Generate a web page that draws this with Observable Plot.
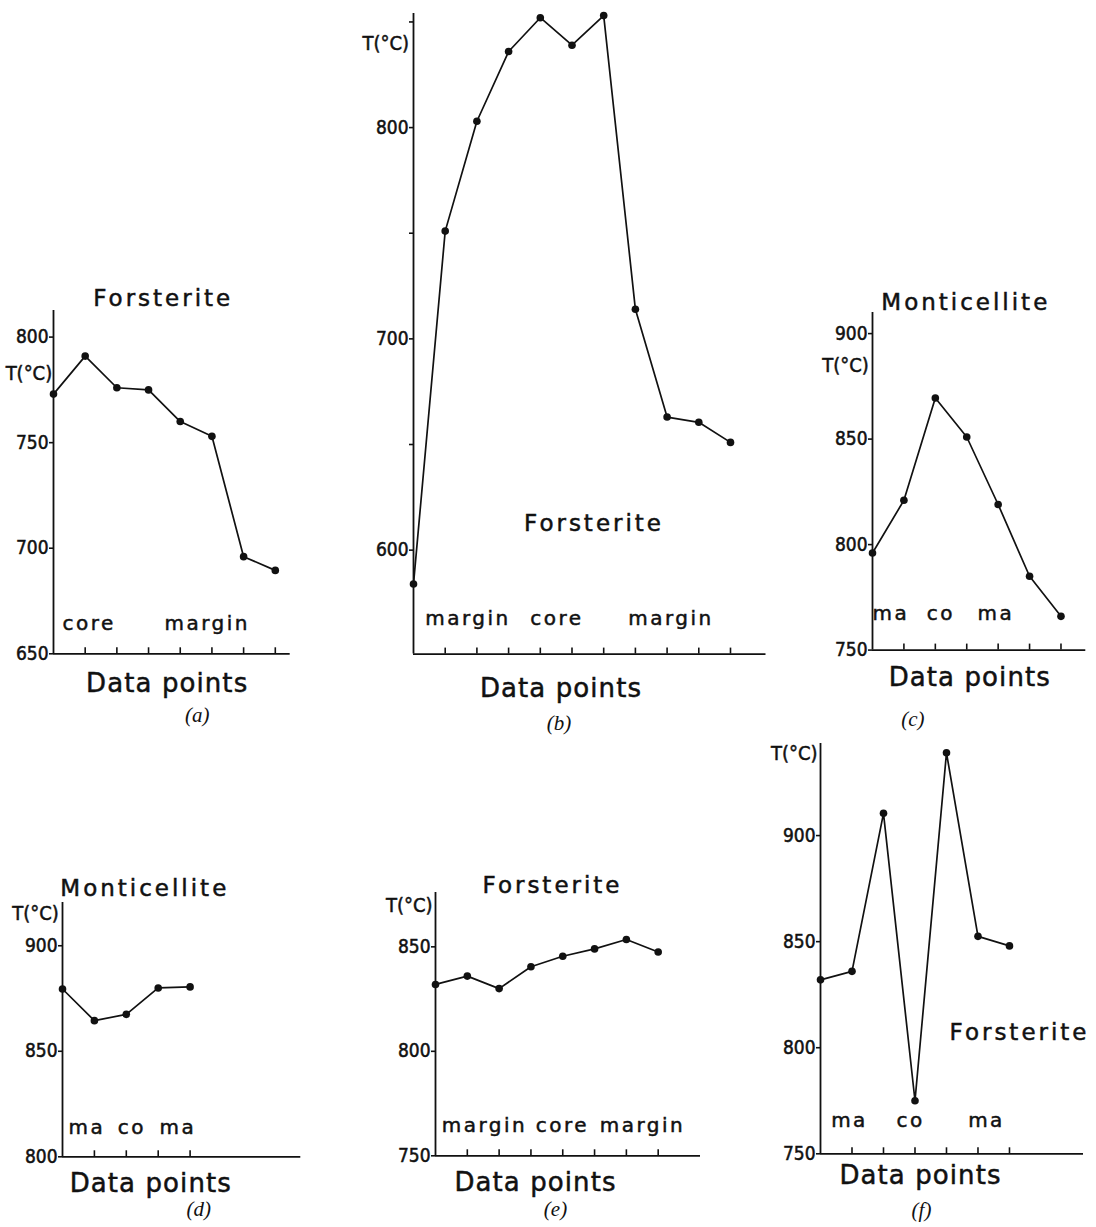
<!DOCTYPE html>
<html>
<head>
<meta charset="utf-8">
<script src="https://cdn.jsdelivr.net/npm/d3@7"></script>
<script src="https://cdn.jsdelivr.net/npm/@observablehq/plot@0.6"></script>
<style>
  html, body { margin: 0; padding: 0; background: #fff; }
  #page { position: relative; width: 1096px; height: 1227px; overflow: hidden; background: #fff; }
  #page svg { position: absolute; overflow: visible; }
</style>
</head>
<body>
<div id="page"></div>
<script>
// ---------- data ----------
const pointsA = [773, 791, 776, 775, 760, 753, 696, 689.5];
const pointsB = [584, 751, 803, 836, 852, 839, 853, 714, 663, 660.5, 651];
const pointsC = [796, 821, 869.5, 851, 819, 785, 766];
const pointsD = [879.5, 864.5, 867.5, 880, 880.5];
const pointsE = [832, 836, 830, 840.5, 845.5, 849, 853.5, 847.5];
const pointsF = [832, 836, 910.5, 775, 939, 852.5, 848];

const yTicksA = [650, 700, 750, 800];
const yTicksB = [600, 650, 700, 750, 800, 850];
const yLabelsB = [600, 700, 800];
const yTicksC = [750, 800, 850, 900];
const yTicksD = [800, 850, 900];
const yTicksE = [750, 800, 850];
const yTicksF = [750, 800, 850, 900];

const titles = ["Forsterite", "Forsterite", "Monticellite", "Monticellite", "Forsterite", "Forsterite"];
const zonesA = ["core", "margin"];
const zonesB = ["margin", "core", "margin"];
const zonesC = ["ma", "co", "ma"];
const zonesD = ["ma", "co", "ma"];
const zonesE = ["margin", "core", "margin"];
const zonesF = ["ma", "co", "ma"];
const captions = ["(a)", "(b)", "(c)", "(d)", "(e)", "(f)"];
const xLabel = "Data points";
const yLabel = "T(°C)";

// ---------- layout (page pixel positions) ----------
const panels = [
  { values: pointsA, yTicks: yTicksA, yLabels: yTicksA, yDomain: [650, 812.6], xMax: 7.47, title: titles[0], zones: zonesA, caption: captions[0],
    frame: {left: 53.3, top: 310, right: 290, bottom: 653.3},
    titlePos: [163, 298], ylabPos: [52, 373], zonePos: [[89, 623], [207, 623]], xlabPos: [167, 683], capPos: [197, 715] },
  { values: pointsB, yTicks: yTicksB, yLabels: yLabelsB, yDomain: [550.8, 854], xMax: 11.12, title: titles[1], zones: zonesB, caption: captions[1],
    frame: {left: 412.5, top: 12.7, right: 765, bottom: 653.3},
    titlePos: [593, 523], ylabPos: [408, 43], zonePos: [[467, 618], [556, 618], [670, 618]], xlabPos: [560, 688], capPos: [558, 722] },
  { values: pointsC, yTicks: yTicksC, yLabels: yTicksC, yDomain: [750, 910], xMax: 6.79, title: titles[2], zones: zonesC, caption: captions[2],
    frame: {left: 871.7, top: 311.7, right: 1085, bottom: 649.3},
    titlePos: [965, 302], ylabPos: [868, 365], zonePos: [[890, 613], [940, 613], [995, 613]], xlabPos: [969, 677], capPos: [912, 718] },
  { values: pointsD, yTicks: yTicksD, yLabels: yTicksD, yDomain: [800, 920.5], xMax: 7.47, title: titles[3], zones: zonesD, caption: captions[3],
    frame: {left: 61.7, top: 901.7, right: 300, bottom: 1156},
    titlePos: [144, 888], ylabPos: [58, 913], zonePos: [[86, 1127], [131, 1127], [177, 1127]], xlabPos: [150, 1183], capPos: [198, 1208] },
  { values: pointsE, yTicks: yTicksE, yLabels: yTicksE, yDomain: [750, 876], xMax: 8.33, title: titles[4], zones: zonesE, caption: captions[4],
    frame: {left: 435, top: 891.7, right: 700, bottom: 1155},
    titlePos: [552, 885], ylabPos: [432, 905], zonePos: [[484, 1125], [562, 1125], [642, 1125]], xlabPos: [535, 1182], capPos: [555, 1208] },
  { values: pointsF, yTicks: yTicksF, yLabels: yTicksF, yDomain: [750, 943.4], xMax: 8.35, title: titles[5], zones: zonesF, caption: captions[5],
    frame: {left: 820, top: 743, right: 1083, bottom: 1153.3},
    titlePos: [1019, 1032], ylabPos: [817, 753], zonePos: [[849, 1120], [910, 1120], [986, 1120]], xlabPos: [920, 1175], capPos: [921, 1210] }
];

const LETTER = "'DejaVu Sans', Verdana, sans-serif";
const NARROW = "'DejaVu Sans Condensed', 'Liberation Sans Narrow', 'DejaVu Sans', sans-serif";
const SERIF = "'Liberation Serif', 'DejaVu Serif', serif";
const INK = "#111";
const SPACING = {title: "3px", zone: "2.5px", xlabel: "1.1px"};

const page = document.getElementById("page");
const ML = 70, MT = 45, MR = 30, MB = 95;

for (const p of panels) {
  const f = p.frame;
  const fw = f.right - f.left, fh = f.bottom - f.top;
  const data = p.values.map((t, i) => ({i, t}));
  const at = ([x, y], anchor = "middle") => ({
    frameAnchor: "top-left", dx: x - f.left, dy: y - f.top,
    textAnchor: anchor, lineAnchor: "middle", text: d => d, fill: INK
  });

  const svg = Plot.plot({
    width: fw + ML + MR,
    height: fh + MT + MB,
    marginLeft: ML, marginTop: MT, marginRight: MR, marginBottom: MB,
    x: {domain: [0, p.xMax]},
    y: {domain: p.yDomain},
    style: {fontFamily: LETTER, color: INK, background: "transparent", overflow: "visible"},
    marks: [
      Plot.axisY({ticks: p.yTicks, tickSize: 4, tickPadding: 1, label: null,
                  tickFormat: d => p.yLabels.includes(d) ? String(d) : "",
                  fontSize: 19, fontFamily: NARROW, strokeWidth: 1.6}),
      Plot.axisX({ticks: d3.range(1, p.values.length), tickSize: 6, dy: -6, label: null,
                  tickFormat: () => "", strokeWidth: 1.6}),
      Plot.ruleX([0], {stroke: INK, strokeWidth: 1.8}),
      Plot.ruleY([p.yDomain[0]], {stroke: INK, strokeWidth: 1.8}),
      Plot.line(data, {x: "i", y: "t", stroke: INK, strokeWidth: 1.7}),
      Plot.dot(data, {x: "i", y: "t", r: 3.8, fill: INK, stroke: "none"}),
      Plot.text([p.title], {...at(p.titlePos), fontSize: 23, ariaDescription: "title"}),
      Plot.text([yLabel], {...at(p.ylabPos, "end"), fontSize: 20, fontFamily: NARROW, ariaDescription: "ylabel"}),
      ...p.zones.map((z, k) => Plot.text([z], {...at(p.zonePos[k]), fontSize: 20, ariaDescription: "zone"})),
      Plot.text([xLabel], {...at(p.xlabPos), fontSize: 26, ariaDescription: "xlabel"}),
      Plot.text([p.caption], {...at(p.capPos), fontSize: 21, fontFamily: SERIF, fontStyle: "italic", ariaDescription: "caption"})
    ]
  });
  const s = d3.select(svg);
  // letter spacing of the hand-lettered labels
  for (const [kind, sp] of Object.entries(SPACING)) {
    s.selectAll(`g[aria-description="${kind}"] text`).style("letter-spacing", sp);
  }
  // slightly heavier pen strokes, like the stencil lettering
  s.selectAll("text").filter(function () { return this.closest('g[aria-description="caption"]') === null; })
    .attr("stroke", INK).attr("stroke-width", 0.5);
  svg.style.left = (f.left - ML) + "px";
  svg.style.top = (f.top - MT) + "px";
  page.appendChild(svg);
}
</script>
</body>
</html>
